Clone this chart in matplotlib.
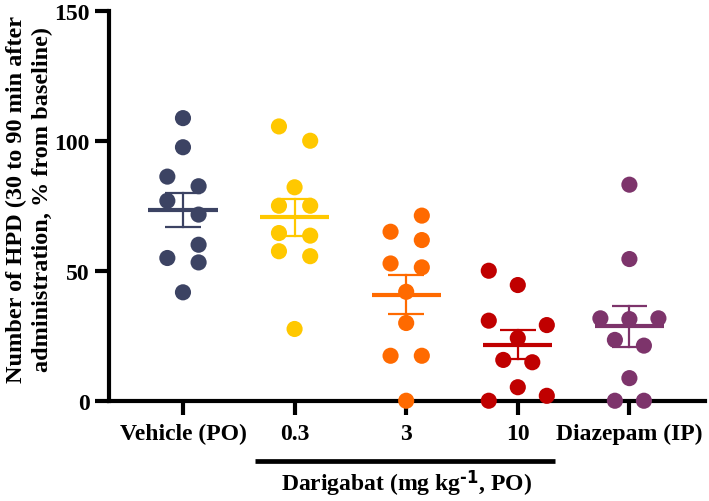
import numpy as np
import matplotlib
matplotlib.use("Agg")
import matplotlib.pyplot as plt

plt.rcParams['font.family'] = ['Liberation Serif', 'DejaVu Serif']
plt.rcParams['font.weight'] = 'bold'
plt.rcParams['mathtext.default'] = 'regular'

# group labels and colours
groups = ["Vehicle (PO)", "0.3", "3", "10", "Diazepam (IP)"]
colors = ["#3c4363", "#ffc800", "#ff6a00", "#c00000", "#7d346b"]

# individual values (% from baseline)
vehicle = [108.8, 97.6, 86.3, 82.6, 77.0, 71.7, 60.1, 55.0, 53.3, 41.8]
dose_03 = [105.6, 100.1, 82.2, 75.1, 75.1, 64.6, 63.6, 57.6, 55.7, 27.7]
dose_3 = [71.3, 65.1, 61.9, 52.9, 51.4, 42.0, 30.0, 17.4, 17.4, 0.1]
dose_10 = [50.1, 44.6, 30.9, 29.2, 24.2, 15.8, 14.9, 5.3, 0.1, 2.0]
diazepam = [83.2, 54.6, 31.8, 31.5, 31.8, 23.5, 21.3, 8.8, 0.1, 0.1]
values = [vehicle, dose_03, dose_3, dose_10, diazepam]

# horizontal swarm offsets (layout only, category units)
offsets = [
    [0, 0, -0.14, 0.14, -0.14, 0.14, 0.14, -0.14, 0.14, 0],
    [-0.14, 0.14, 0, -0.14, 0.14, -0.14, 0.14, -0.14, 0.14, 0],
    [0.14, -0.14, 0.14, -0.14, 0.14, 0, 0, -0.14, 0.14, 0],
    [-0.26, 0, -0.26, 0.26, 0, -0.13, 0.13, 0, -0.26, 0.26],
    [0, 0, -0.26, 0, 0.26, -0.13, 0.13, 0, -0.13, 0.13],
]

fig = plt.figure(figsize=(7.09, 5.02), dpi=100)
ax = fig.add_axes([0.1537, 0.1992, 0.8406, 0.7769])

for i, (vals, offs, c) in enumerate(zip(values, offsets, colors)):
    vals = np.array(vals)
    xs = i + np.array(offs)
    ax.scatter(xs, vals, s=135, color=c, edgecolors='none', zorder=3, clip_on=False)
    m = vals.mean()
    sem = vals.std(ddof=1) / np.sqrt(len(vals))
    ax.plot([i - 0.31, i + 0.31], [m, m], color=c, lw=3, zorder=4, solid_capstyle='butt')
    ax.plot([i, i], [m - sem, m + sem], color=c, lw=1.6, zorder=4)
    for y in (m - sem, m + sem):
        ax.plot([i - 0.16, i + 0.16], [y, y], color=c, lw=1.6, zorder=4, solid_capstyle='butt')

ax.set_xlim(-0.663, 4.677)
ax.set_ylim(0, 150)
ax.set_yticks([0, 50, 100, 150])
ax.set_xticks(range(len(groups)))
ax.set_xticklabels(groups, fontsize=17, fontweight='bold')
for lab in ax.get_yticklabels():
    lab.set_fontsize(17)
    lab.set_fontweight('bold')

for s in ['top', 'right']:
    ax.spines[s].set_visible(False)
for s in ['left', 'bottom']:
    ax.spines[s].set_linewidth(3)
ax.tick_params(axis='both', width=3, length=10)
ax.tick_params(axis='y', pad=4)
ax.tick_params(axis='x', pad=6)

ax.set_ylabel("Number of HPD (30 to 90 min after\nadministration, % from baseline)",
              fontsize=17.5, fontweight='bold', linespacing=1.3, va='center')
ax.yaxis.set_label_coords(-0.134, 0.518)

# Darigabat dose bracket
ax.plot([0.645, 3.33], [-0.154, -0.154], color='black', lw=3.4, clip_on=False,
        transform=ax.get_xaxis_transform(), solid_capstyle='butt')
ax.text(2.0, -0.21, "Darigabat (mg kg$^{\\text{-1}}$, PO)", transform=ax.get_xaxis_transform(),
        ha='center', va='center', fontsize=17, fontweight='bold')

fig.savefig("out.png", dpi=100)
